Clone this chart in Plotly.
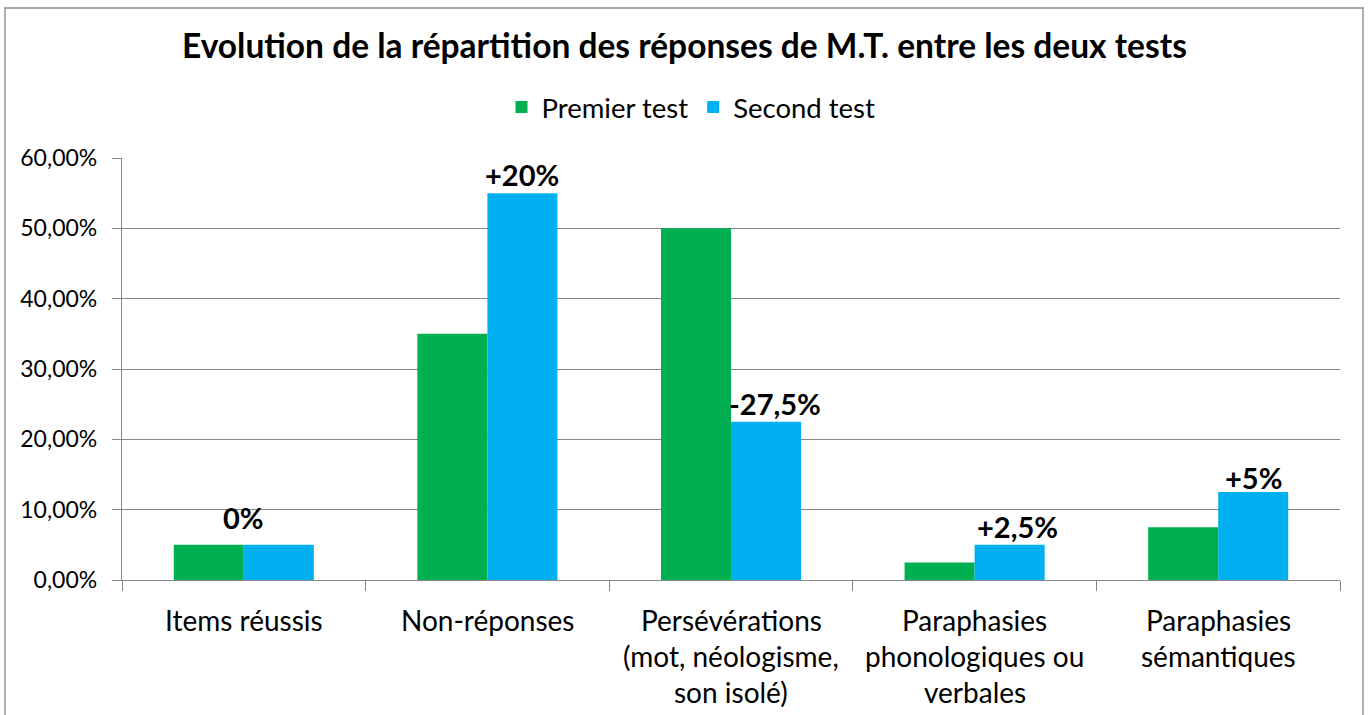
import plotly.graph_objects as go

# Categories (each label split into its display lines)
categories = [
    "Items réussis",
    "Non-réponses",
    "Persévérations\n(mot, néologisme,\nson isolé)",
    "Paraphasies\nphonologiques ou\nverbales",
    "Paraphasies\nsémantiques",
]
first_test = [5.0, 35.0, 50.0, 2.5, 7.5]
second_test = [5.0, 55.0, 22.5, 5.0, 12.5]
y_ticks = [0, 10, 20, 30, 40, 50, 60]

GREEN = "#00B050"
BLUE = "#00B0F0"
GRID = "#868686"
FONT = "Lato"

W, H = 1368, 715
ML, MR, MT, MB = 122, 28, 158, 135
PW = W - ML - MR
PH = H - MT - MB


def px_x(px):
    return (px - ML) / PW


def px_y(py):
    return (MT + PH - py) / PH


x_idx = list(range(len(categories)))


def fmt_diff(a, b):
    d = b - a
    s = f"{abs(d):g}".replace(".", ",")
    if d > 0:
        return "+" + s + "%"
    if d < 0:
        return "-" + s + "%"
    return "0%"


fig = go.Figure()
fig.add_trace(go.Bar(name="Premier test", x=x_idx, y=first_test,
                     marker=dict(color=GREEN, line=dict(width=0))))
fig.add_trace(go.Bar(name="Second test", x=x_idx, y=second_test,
                     marker=dict(color=BLUE, line=dict(width=0))))

bargap = 0.425
bar_w = (1 - bargap) / 2
annotations = []

# Difference labels above the second-test bars
for i, (a, b) in enumerate(zip(first_test, second_test)):
    txt = fmt_diff(a, b)
    ax = i if a == b else i + bar_w / 2
    xs = 0
    if i == 2:
        xs = 9
    elif i == 3:
        xs = 8
    annotations.append(dict(x=ax, y=b, xref="x", yref="y",
                            text=f"<b>{txt}</b>", showarrow=False,
                            yanchor="bottom", xshift=xs,
                            yshift=-5 if i == 4 else (8 if a == b else -1),
                            font=dict(family=FONT, size=29, color="black")))

# Category labels, one annotation per line
for i, cat in enumerate(categories):
    for j, line in enumerate(cat.split("\n")):
        annotations.append(dict(x=i, y=0, xref="x", yref="y", text=line,
                                showarrow=False, yanchor="middle",
                                yshift=-40 - 36 * j,
                                font=dict(family=FONT, size=28, color="black")))

# Chart title
annotations.append(dict(x=px_x(684), y=px_y(45), xref="paper", yref="paper",
                        text="<b>Evolution de la répartition des réponses de M.T. entre les deux tests</b>",
                        showarrow=False, xanchor="center", yanchor="middle",
                        font=dict(family=FONT, size=33.5, color="black")))

# Outer chart frame
shapes = [dict(type="rect", xref="paper", yref="paper",
               x0=px_x(5), x1=px_x(1363), y0=px_y(730), y1=px_y(8),
               line=dict(color=GRID, width=1.3), fillcolor="rgba(0,0,0,0)", layer="below")]

fig.update_layout(
    width=W, height=H,
    margin=dict(l=ML, r=MR, t=MT, b=MB),
    paper_bgcolor="white", plot_bgcolor="white",
    barmode="group", bargap=bargap, bargroupgap=0,
    font=dict(family=FONT, color="black"),
    showlegend=True,
    legend=dict(orientation="h", x=px_x(691), xanchor="center", y=px_y(107),
                yanchor="middle", font=dict(family=FONT, size=27.5),
                bgcolor="rgba(0,0,0,0)"),
    annotations=annotations,
    shapes=shapes,
)

fig.update_xaxes(
    type="linear", range=[-0.5, len(categories) - 0.5],
    tickvals=[k - 0.5 for k in range(len(categories) + 1)],
    showticklabels=False, ticks="outside", ticklen=10, tickcolor=GRID,
    showline=True, linecolor=GRID, linewidth=1.3, showgrid=False, zeroline=False,
)
fig.update_yaxes(
    range=[0, 60], tickvals=y_ticks,
    ticktext=[f"{v:.2f}".replace(".", ",") + "%" for v in y_ticks],
    ticks="outside", ticklen=9, tickcolor=GRID, ticklabelstandoff=10,
    showline=True, linecolor=GRID, linewidth=1.3,
    showgrid=True, gridcolor=GRID, gridwidth=1.3, zeroline=False,
    tickfont=dict(family=FONT, size=23, color="black"),
)

fig.write_html("out.html")
